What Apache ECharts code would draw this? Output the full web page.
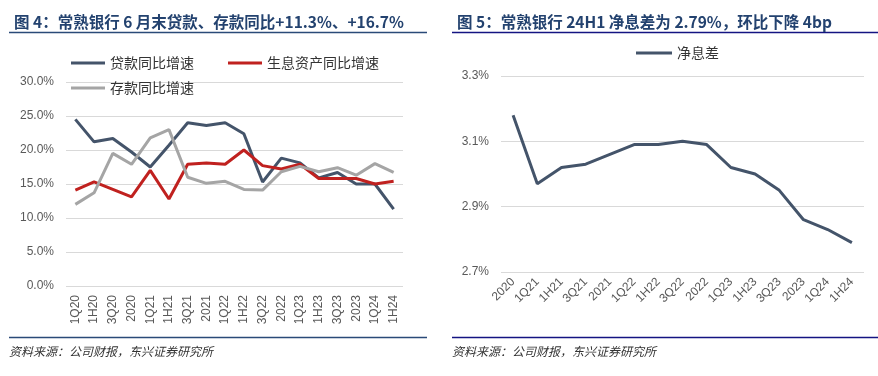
<!DOCTYPE html>
<html><head><meta charset="utf-8">
<script src="https://cdn.jsdelivr.net/npm/echarts@6/dist/echarts.min.js"></script>
<style>html,body{margin:0;padding:0;background:#fff}#c{width:878px;height:376px}</style>
</head><body><div id="c"></div>
<script>
const catsL = ['1Q20','1H20','3Q20','2020','1Q21','1H21','3Q21','2021','1Q22','1H22','3Q22','2022','1Q23','1H23','3Q23','2023','1Q24','1H24'];
const loanYoY = [24.5,21.2,21.7,19.7,17.5,20.7,24.0,23.6,24.0,22.4,15.3,18.8,18.1,15.9,16.7,15.0,15.0,11.3];
const earnAssetYoY = [14.1,15.3,14.2,13.1,17.0,12.8,17.9,18.1,17.9,20.0,17.7,17.2,17.9,15.8,15.8,15.8,15.0,15.4];
const depositYoY = [12.0,13.7,19.5,17.9,21.8,23.0,16.0,15.1,15.4,14.2,14.1,16.8,17.6,16.8,17.4,16.3,18.0,16.7];
const yTicksL = [0,5,10,15,20,25,30];

const catsR = ['2020','1Q21','1H21','3Q21','2021','1Q22','1H22','3Q22','2022','1Q23','1H23','3Q23','2023','1Q24','1H24'];
const nim = [3.18,2.97,3.02,3.03,3.06,3.09,3.09,3.10,3.09,3.02,3.00,2.95,2.86,2.83,2.79];
const yTicksR = [2.7,2.9,3.1,3.3];

const titleL = '图 4：常熟银行 6 月末贷款、存款同比+11.3%、+16.7%';
const titleR = '图 5：常熟银行 24H1 净息差为 2.79%，环比下降 4bp';
const source = '资料来源：公司财报，东兴证券研究所';

const FONT = '"Noto Sans CJK SC", "Liberation Sans", sans-serif';
const labelColor = '#595959';
const C_LOAN = '#44546a', C_RED = '#c0211f', C_GRAY = '#a5a5a5';

const chart = echarts.init(document.getElementById('c'), null, {renderer:'canvas'});
const legendText = {fontSize:14, color:'#333', fontFamily:FONT};
const option = {
  animation:false,
  textStyle:{fontFamily:FONT},
  title:[
    {text:titleL, left:9, top:9, textStyle:{fontSize:15.5, fontWeight:'bold', color:'#23426f', fontFamily:FONT}},
    {text:titleR, left:452, top:9, textStyle:{fontSize:15.5, fontWeight:'bold', color:'#23426f', fontFamily:FONT}}
  ],
  legend:[
    {data:['贷款同比增速','生息资产同比增速'], left:66, top:51, icon:'rect', itemWidth:34, itemHeight:3, itemGap:34, textStyle:legendText, selectedMode:false},
    {data:['存款同比增速'], left:66, top:76, icon:'rect', itemWidth:34, itemHeight:3, textStyle:legendText, selectedMode:false},
    {data:['净息差'], left:631, top:41, icon:'rect', itemWidth:36, itemHeight:3, textStyle:legendText, selectedMode:false}
  ],
  grid:[
    {left:66, right:475, top:82, bottom:90},
    {left:501, right:14, top:76, bottom:104}
  ],
  xAxis:[
    {type:'category', gridIndex:0, data:catsL, boundaryGap:true, axisLine:{show:false}, axisTick:{show:false},
     axisLabel:{rotate:90, fontSize:12, color:labelColor, margin:9, fontFamily:'"Liberation Sans", Arial, sans-serif', interval:0}},
    {type:'category', gridIndex:1, data:catsR, boundaryGap:true, axisLine:{show:false}, axisTick:{show:false},
     axisLabel:{rotate:45, fontSize:12, color:labelColor, margin:8, fontFamily:'"Liberation Sans", Arial, sans-serif', interval:0}}
  ],
  yAxis:[
    {type:'value', gridIndex:0, min:yTicksL[0], max:yTicksL[yTicksL.length-1], interval:5,
     axisLabel:{formatter:v=>v.toFixed(1)+'%', fontSize:12, color:labelColor, margin:12, fontFamily:'"Liberation Sans", Arial, sans-serif'},
     splitLine:{lineStyle:{color:'#d9d9d9', width:1}}, axisLine:{show:false}, axisTick:{show:false}},
    {type:'value', gridIndex:1, min:yTicksR[0], max:yTicksR[yTicksR.length-1], interval:0.2,
     axisLabel:{formatter:v=>v.toFixed(1)+'%', fontSize:12, color:labelColor, margin:12, fontFamily:'"Liberation Sans", Arial, sans-serif'},
     splitLine:{lineStyle:{color:'#d9d9d9', width:1}}, axisLine:{show:false}, axisTick:{show:false}}
  ],
  series:[
    {name:'贷款同比增速', type:'line', xAxisIndex:0, yAxisIndex:0, data:loanYoY, symbol:'none', lineStyle:{color:C_LOAN, width:3}, itemStyle:{color:C_LOAN}},
    {name:'生息资产同比增速', type:'line', xAxisIndex:0, yAxisIndex:0, data:earnAssetYoY, symbol:'none', lineStyle:{color:C_RED, width:3}, itemStyle:{color:C_RED}},
    {name:'存款同比增速', type:'line', xAxisIndex:0, yAxisIndex:0, data:depositYoY, symbol:'none', lineStyle:{color:C_GRAY, width:3}, itemStyle:{color:C_GRAY}},
    {name:'净息差', type:'line', xAxisIndex:1, yAxisIndex:1, data:nim, symbol:'none', lineStyle:{color:C_LOAN, width:3}, itemStyle:{color:C_LOAN}}
  ],
  graphic:[
    {type:'line', shape:{x1:9, y1:32.5, x2:427, y2:32.5}, style:{stroke:'#2a4a78', lineWidth:1.5}},
    {type:'line', shape:{x1:452, y1:32.5, x2:878, y2:32.5}, style:{stroke:'#141482', lineWidth:1.5}},
    {type:'line', shape:{x1:9, y1:337.5, x2:427, y2:337.5}, style:{stroke:'#2a4a78', lineWidth:1.5}},
    {type:'line', shape:{x1:452, y1:337.5, x2:878, y2:337.5}, style:{stroke:'#141482', lineWidth:1.5}},
    {type:'text', left:9, top:345, style:{text:source, fontSize:12, fontStyle:'italic', fill:'#333', fontFamily:FONT}},
    {type:'text', left:452, top:345, style:{text:source, fontSize:12, fontStyle:'italic', fill:'#333', fontFamily:FONT}}
  ]
};
chart.setOption(option);
</script></body></html>
